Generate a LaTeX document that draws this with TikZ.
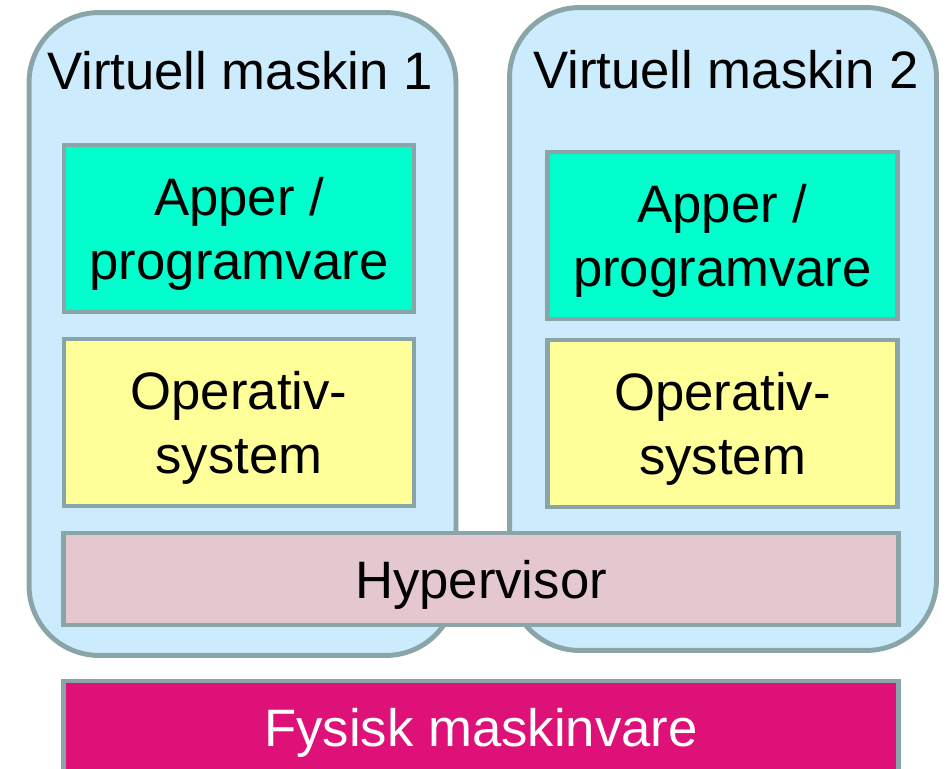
\documentclass[tikz,border=0pt]{standalone}
\usepackage{fontspec}
\setmainfont{Liberation Sans}
\usepackage{tikz}
\usetikzlibrary{positioning}

\definecolor{kant}{HTML}{8AA5A8}
\definecolor{vmbla}{HTML}{CCEBFD}
\definecolor{appgronn}{HTML}{00FFCC}
\definecolor{osgul}{HTML}{FFFF99}
\definecolor{hyperrosa}{HTML}{E5C7D0}
\definecolor{hwmagenta}{HTML}{DD1177}

\tikzset{
  vmboks/.style={draw=kant, fill=vmbla, line width=2.8pt, rounded corners=1.4cm,
    minimum width=8.54cm, minimum height=12.86cm},
  lag/.style={draw=kant, line width=2.4pt, align=center, inner sep=0pt,
    text depth=0pt, font=\fontsize{30}{36}\selectfont},
  vmlag/.style={lag, minimum width=7.0cm, minimum height=3.34cm},
  grunnlag/.style={lag, minimum width=16.7cm, minimum height=1.84cm},
  tittel/.style={font=\fontsize{30}{36}\selectfont}
}

\begin{document}
\begin{tikzpicture}[x=0.02cm, y=-0.02cm]
    \useasboundingbox (0,0) rectangle (947,768);

    % virtuelle maskiner
    \node[vmboks] (vm1) at (242.5,334) {};
    \node[vmboks] (vm2) at (723,329) {};
    \node[tittel] (t1) at (240,71) {Virtuell maskin 1};
    \node[tittel] (t2) at (726,70) {Virtuell maskin 2};

    % lag inne i hver maskin
    \node[vmlag, fill=appgronn] (app1) at (239,228.5) {Apper /\\programvare};
    \node[vmlag, fill=appgronn] (app2) at (722.5,235.5) {Apper /\\programvare};
    \node[vmlag, fill=osgul] (os1) at (239,422.5) {Operativ-\\system};
    \node[vmlag, fill=osgul] (os2) at (722.5,423.5) {Operativ-\\system};

    % felles lag
    \node[grunnlag, fill=hyperrosa] (hyp) at (481,579) {Hypervisor};
    \node[grunnlag, fill=hwmagenta, text=white] (hw) at (481,727) {Fysisk maskinvare};
\end{tikzpicture}
\end{document}
